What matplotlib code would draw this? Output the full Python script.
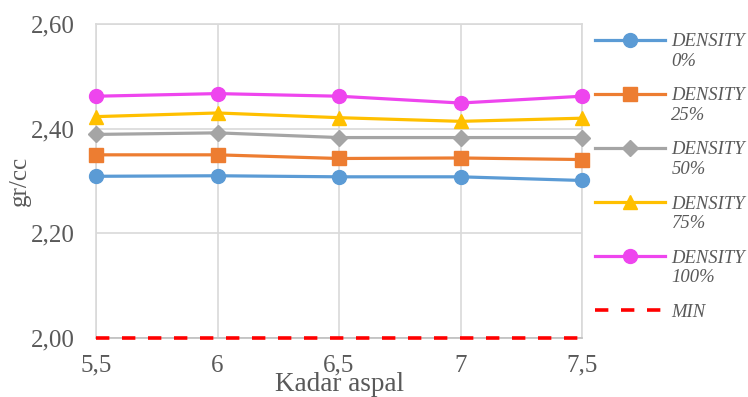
import matplotlib
matplotlib.use("Agg")
import matplotlib.pyplot as plt
from matplotlib.ticker import FuncFormatter
from matplotlib.legend_handler import HandlerLine2D

x_vals = [5.5, 6, 6.5, 7, 7.5]
density_0 = [2.309, 2.310, 2.308, 2.308, 2.301]
density_25 = [2.350, 2.350, 2.343, 2.344, 2.341]
density_50 = [2.389, 2.392, 2.383, 2.383, 2.383]
density_75 = [2.423, 2.430, 2.421, 2.414, 2.420]
density_100 = [2.462, 2.467, 2.462, 2.449, 2.462]
min_vals = [2.0, 2.0, 2.0, 2.0, 2.0]
labels = ["DENSITY\n0%", "DENSITY\n25%", "DENSITY\n50%", "DENSITY\n75%", "DENSITY\n100%", "MIN"]
x_ticks = [5.5, 6, 6.5, 7, 7.5]
y_ticks = [2.0, 2.2, 2.4, 2.6]

plt.rcParams['font.family'] = ['Liberation Serif', 'DejaVu Serif']

LEG_FS = 13.4


class ShiftedHandler(HandlerLine2D):
    def __init__(self, shift=0.0, **kw):
        super().__init__(**kw)
        self.shift = shift

    def create_artists(self, legend, orig_handle, xdescent, ydescent,
                       width, height, fontsize, trans):
        arts = super().create_artists(legend, orig_handle, xdescent, ydescent,
                                      width, height, fontsize, trans)
        for a in arts:
            y = a.get_ydata()
            a.set_ydata([v + self.shift for v in y])
        return arts


fig = plt.figure(figsize=(7.48, 3.97), dpi=100)
ax = fig.add_axes([96/748, 1-338/397, (582-96)/748, (338-24)/397])

series = [
    (density_0, '#5B9BD5', 'o', 10),
    (density_25, '#ED7D31', 's', 10),
    (density_50, '#A5A5A5', 'D', 8),
    (density_75, '#FFC000', '^', 10.5),
    (density_100, '#EE45EE', 'o', 10),
]
handles = []
for (vals, c, m, ms), lab in zip(series, labels[:5]):
    h, = ax.plot(x_vals, vals, color=c, marker=m, markersize=ms, linewidth=2.3,
                 label=lab, clip_on=False, zorder=3)
    handles.append(h)
h, = ax.plot(x_vals, min_vals, color='#FF0000', linestyle=(0, (3.7, 3.5)), linewidth=2.6,
             label=labels[5], clip_on=False, zorder=3)
handles.append(h)

ax.set_xlim(5.5, 7.5)
ax.set_ylim(2.0, 2.6)
ax.set_xticks(x_ticks)
ax.set_yticks(y_ticks)
ax.xaxis.set_major_formatter(FuncFormatter(lambda v, p: (f"{v:g}").replace('.', ',')))
ax.yaxis.set_major_formatter(FuncFormatter(lambda v, p: f"{v:.2f}".replace('.', ',')))
ax.grid(True, color='#D9D9D9', linewidth=1.2, zorder=0)
ax.set_axisbelow(True)
for s in ax.spines.values():
    s.set_color('#D9D9D9')
    s.set_linewidth(1.2)
ax.spines['bottom'].set_color('#BFBFBF')
ax.tick_params(length=0, labelsize=18, colors='#595959')
ax.tick_params(axis='x', pad=12)
ax.tick_params(axis='y', pad=15)
ax.set_xlabel("Kadar aspal", fontsize=19.5, color='#595959')
ax.xaxis.set_label_coords(0.502, -0.109)
ax.set_ylabel("gr/cc", fontsize=18, color='#595959')
ax.yaxis.set_label_coords(-0.135, 0.5)

hmap = {hh: ShiftedHandler(shift=(0.62 * LEG_FS if i < 5 else 0.0)) for i, hh in enumerate(handles)}
leg = fig.legend(handles=handles, loc='upper left', bbox_to_anchor=(578/748, 1-16.5/397),
                 frameon=False, handlelength=3.75, handletextpad=0.37, labelspacing=0.94,
                 handler_map=hmap,
                 prop={'style': 'italic', 'size': LEG_FS, 'family': 'Liberation Serif'})
for t in leg.get_texts():
    t.set_color('#595959')

fig.savefig("out.png", dpi=100)
